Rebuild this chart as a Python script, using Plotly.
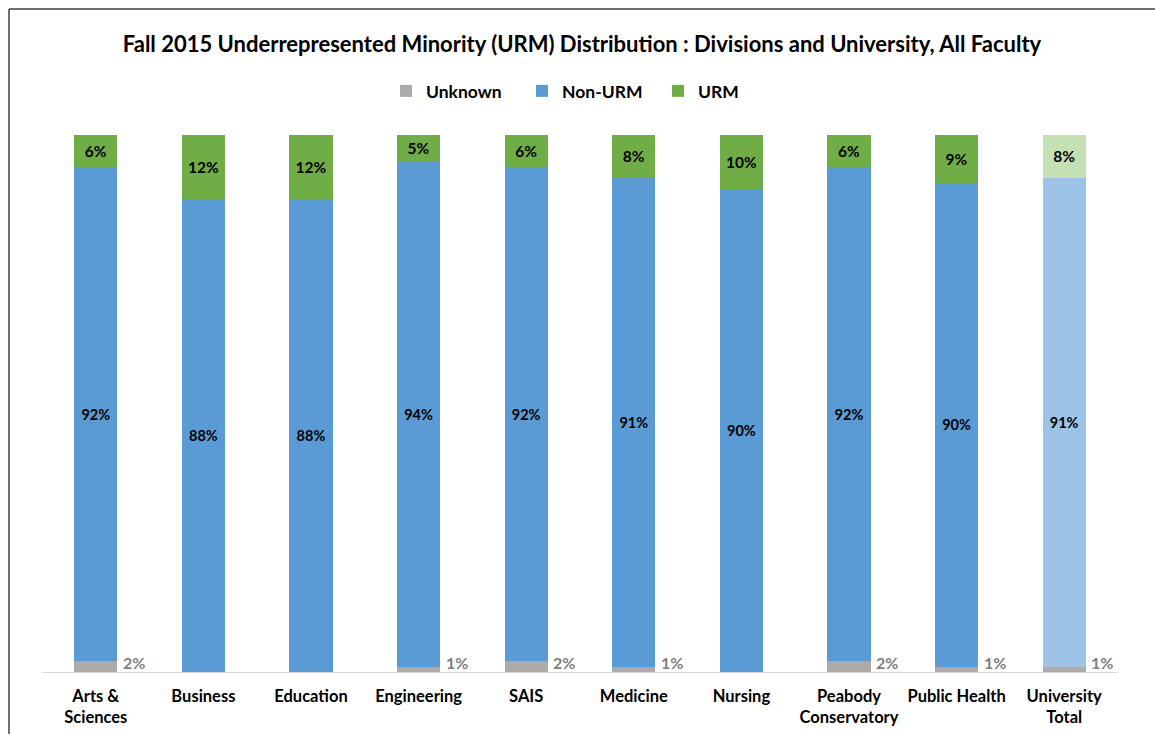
import plotly.graph_objects as go

categories = ["Arts &<br>Sciences", "Business", "Education", "Engineering", "SAIS",
              "Medicine", "Nursing", "Peabody<br>Conservatory", "Public Health", "University<br>Total"]
unknown = [2, 0, 0, 1, 2, 1, 0, 2, 1, 1]
non_urm = [92, 88, 88, 94, 92, 91, 90, 92, 90, 91]
urm = [6, 12, 12, 5, 6, 8, 10, 6, 9, 8]

gray = ["#AEAAAA"] * 9 + ["#AEAAAA"]
blue = ["#5B9BD5"] * 9 + ["#9DC3E6"]
green = ["#70AD47"] * 9 + ["#C5E0B4"]

FONT = "Lato"

fig = go.Figure()
fig.add_trace(go.Bar(name="Unknown", x=categories, y=unknown, marker=dict(color=gray, line=dict(width=0)),
                     hoverinfo="skip"))
fig.add_trace(go.Bar(name="Non-URM", x=categories, y=non_urm, marker=dict(color=blue, line=dict(width=0)),
                     text=[f"{v}%" for v in non_urm], textposition="inside", insidetextanchor="middle",
                     textangle=0, insidetextfont=dict(family=FONT, size=14.5, color="black", weight="bold"),
                     constraintext="none"))
fig.add_trace(go.Bar(name="URM", x=categories, y=urm, marker=dict(color=green, line=dict(width=0)),
                     text=[f"{v}%" for v in urm], textposition="inside", insidetextanchor="middle",
                     textangle=0, insidetextfont=dict(family=FONT, size=15.5, color="black", weight="bold"),
                     constraintext="none"))

for c, u in zip(categories, unknown):
    if u > 0:
        fig.add_annotation(x=c, y=0, text=f"{u}%", showarrow=False, xanchor="left", yanchor="middle",
                           xshift=25, yshift=10, font=dict(family=FONT, size=16, color="#7F7F7F", weight="bold"))

L, R, T, B = 42, 37, 135, 62
W, H = 1155, 734
pw, ph = W - L - R, H - T - B
px = lambda p: (p - L) / pw
py = lambda p: (H - B - p) / ph

fig.add_shape(type="line", xref="paper", yref="paper", x0=px(9), x1=px(9), y0=py(9), y1=py(740),
              line=dict(color="#404040", width=1.5))
fig.add_shape(type="line", xref="paper", yref="paper", x0=px(9), x1=px(1160), y0=py(9), y1=py(9),
              line=dict(color="#404040", width=1.5))

fig.update_layout(
    width=W, height=H,
    barmode="stack", bargap=0.6,
    plot_bgcolor="white", paper_bgcolor="white",
    margin=dict(l=L, r=R, t=T, b=B, autoexpand=False),
    font=dict(family=FONT, color="black"),
    title=dict(text="Fall 2015 Underrepresented Minority (URM) Distribution : Divisions and University, All Faculty",
               x=582 / W, xanchor="center", y=1 - 44 / H, yanchor="middle",
               font=dict(family=FONT, size=22, color="black", weight="bold")),
    legend=dict(orientation="h", x=px(590), xanchor="center", y=py(91), yanchor="middle",
                font=dict(family=FONT, size=17.5, color="black", weight="bold"), traceorder="normal",
                entrywidth=91),
    showlegend=True,
    xaxis=dict(showline=True, linecolor="#D9D9D9", linewidth=1, ticks="", showgrid=False,
               ticklabelstandoff=9, automargin=False,
               tickfont=dict(family=FONT, size=16.5, color="black", weight="bold")),
    yaxis=dict(range=[0, 100], visible=False, showgrid=False, automargin=False),
)

fig.write_html("out.html")
